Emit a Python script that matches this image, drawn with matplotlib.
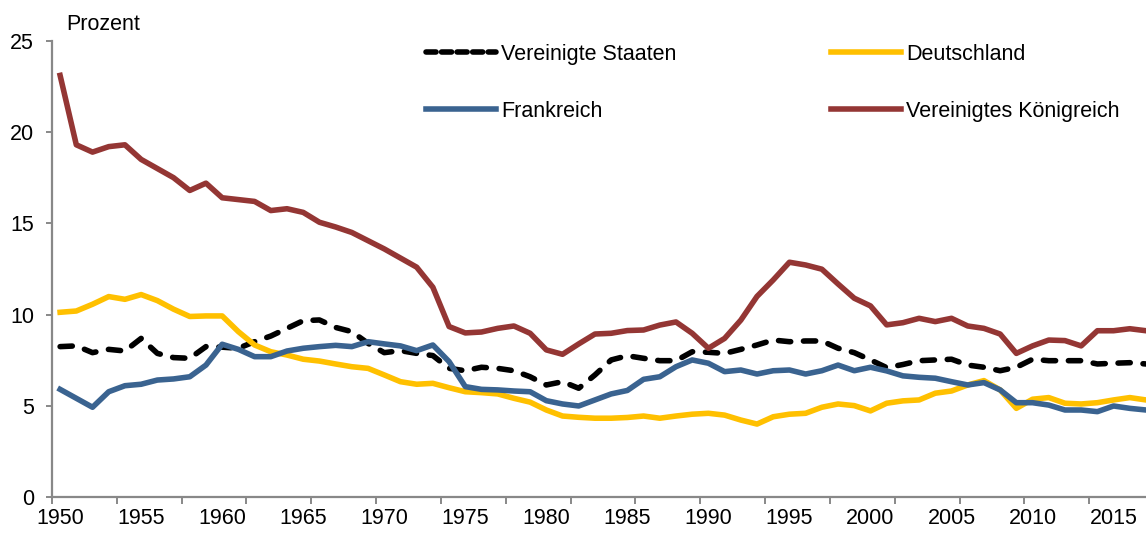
import numpy as np
import matplotlib.pyplot as plt
from matplotlib.lines import Line2D

plt.rcParams['font.family'] = ['Liberation Sans', 'DejaVu Sans']

years = np.arange(1950, 2018)

# Vereinigte Staaten
usa = [8.25, 8.29, 7.92, 8.10, 8.01, 8.70, 7.88, 7.65, 7.61, 8.25,
       8.22, 8.16, 8.52, 8.83, 9.25, 9.67, 9.71, 9.30, 9.07, 8.43,
       7.92, 8.03, 7.88, 7.76, 7.06, 6.93, 7.12, 7.06, 6.93, 6.60,
       6.15, 6.33, 5.97, 6.70, 7.52, 7.75, 7.61, 7.48, 7.48, 7.97,
       7.94, 7.88, 8.10, 8.34, 8.61, 8.52, 8.56, 8.56, 8.16, 7.92,
       7.52, 7.10, 7.27, 7.48, 7.52, 7.56, 7.24, 7.12, 6.93, 7.12,
       7.56, 7.48, 7.48, 7.48, 7.30, 7.34, 7.37, 7.30]

# Deutschland
germany = [10.13, 10.20, 10.57, 10.99, 10.84, 11.10, 10.77, 10.30, 9.90, 9.93,
           9.93, 9.07, 8.34, 7.97, 7.79, 7.56, 7.46, 7.30, 7.15, 7.06,
           6.70, 6.33, 6.19, 6.24, 6.00, 5.78, 5.73, 5.66, 5.42, 5.21,
           4.78, 4.45, 4.38, 4.33, 4.33, 4.37, 4.45, 4.33, 4.45, 4.55,
           4.60, 4.50, 4.23, 4.01, 4.41, 4.55, 4.60, 4.93, 5.11, 5.02,
           4.73, 5.15, 5.28, 5.33, 5.70, 5.82, 6.15, 6.39, 5.88, 4.87,
           5.37, 5.46, 5.15, 5.11, 5.18, 5.33, 5.46, 5.33]

# Frankreich
france = [5.91, 5.42, 4.93, 5.78, 6.11, 6.19, 6.42, 6.48, 6.60, 7.24,
          8.38, 8.10, 7.70, 7.70, 8.01, 8.16, 8.25, 8.32, 8.25, 8.52,
          8.40, 8.29, 8.03, 8.34, 7.43, 6.06, 5.91, 5.88, 5.82, 5.78,
          5.29, 5.11, 5.00, 5.33, 5.66, 5.85, 6.46, 6.60, 7.15, 7.52,
          7.34, 6.88, 6.97, 6.75, 6.93, 6.97, 6.75, 6.93, 7.24, 6.93,
          7.12, 6.92, 6.65, 6.57, 6.52, 6.33, 6.15, 6.28, 5.88, 5.18,
          5.18, 5.05, 4.78, 4.78, 4.69, 5.00, 4.87, 4.78]

# Vereinigtes Königreich
uk = [23.10, 19.30, 18.90, 19.20, 19.30, 18.50, 18.00, 17.50, 16.80, 17.20,
      16.40, 16.30, 16.20, 15.70, 15.80, 15.60, 15.06, 14.80, 14.50, 14.05,
      13.60, 13.10, 12.60, 11.50, 9.35, 9.00, 9.05, 9.25, 9.38, 8.98,
      8.07, 7.83, 8.40, 8.94, 8.98, 9.13, 9.16, 9.43, 9.60, 8.98,
      8.16, 8.70, 9.70, 11.00, 11.90, 12.87, 12.72, 12.49, 11.68, 10.90,
      10.48, 9.44, 9.56, 9.80, 9.62, 9.80, 9.38, 9.25, 8.94, 7.88,
      8.29, 8.61, 8.58, 8.29, 9.12, 9.12, 9.23, 9.12]

labels = ["Vereinigte Staaten", "Deutschland", "Frankreich", "Vereinigtes Königreich"]
colors = ["#000000", "#FFC000", "#3A6390", "#943634"]

fs = 15.5

fig = plt.figure(figsize=(11.46, 5.33), dpi=100)
ax = fig.add_axes([52 / 1146, 35.7 / 533, 1 - 52 / 1146, (497.3 - 40.7) / 533])

lw = 4.0
ax.plot(years, usa, color=colors[0], lw=lw, dashes=(2.2, 2.3),
        dash_capstyle='round', solid_capstyle='round', zorder=3)
ax.plot(years, germany, color=colors[1], lw=lw, zorder=4)
ax.plot(years, france, color=colors[2], lw=lw, zorder=5)
ax.plot(years, uk, color=colors[3], lw=lw, zorder=6)

ax.set_xlim(1949.5, 2017.0)
ax.set_ylim(0, 25)

for s in ['top', 'right']:
    ax.spines[s].set_visible(False)
for s in ['left', 'bottom']:
    ax.spines[s].set_color('#888888')
    ax.spines[s].set_linewidth(1.6)

ax.set_yticks(np.arange(0, 26, 5))
ax.tick_params(axis='y', length=4, width=1.4, color='#888888', pad=9,
               labelsize=fs, labelcolor='black')

ax.set_xticks(np.arange(1950, 2016, 5))
ax.set_xticks(np.arange(1949.5, 2017, 4), minor=True)
ax.tick_params(axis='x', which='major', length=0, pad=7.5, labelsize=fs,
               labelcolor='black')
ax.tick_params(axis='x', which='minor', length=5, width=1.4, color='#888888')

fig.text(66 / 1146, 1 - 25 / 533, "Prozent", fontsize=fs, ha='left', va='center')

handles = [
    Line2D([], [], color=colors[0], lw=lw, dashes=(1.8, 1.0), dash_capstyle='round'),
    Line2D([], [], color=colors[2], lw=lw),
    Line2D([], [], color=colors[1], lw=lw),
    Line2D([], [], color=colors[3], lw=lw),
]
hl = [labels[0], labels[2], labels[1], labels[3]]
fig.legend(handles, hl, ncol=2, loc='upper left',
           bbox_to_anchor=(426 / 1146, 1 - 44 / 533), frameon=False,
           fontsize=fs, handlelength=3.25, handletextpad=0.23,
           labelspacing=1.67, columnspacing=7.2, borderaxespad=0, borderpad=0)

fig.savefig("out.png", dpi=100)
